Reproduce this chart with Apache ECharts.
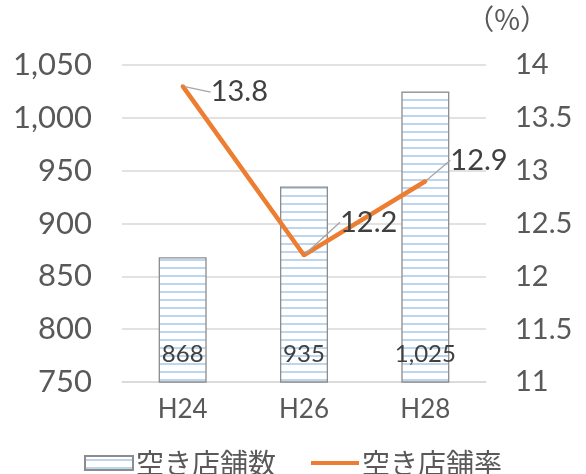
<!DOCTYPE html>
<html><head><meta charset="utf-8">
<script src="https://cdn.jsdelivr.net/npm/echarts@6/dist/echarts.min.js"></script>
<style>html,body{margin:0;padding:0;background:#fff}#c{width:586px;height:474px}</style>
</head><body><div id="c"></div>
<script>
const categories = ['H24', 'H26', 'H28'];
const vacantCount = [868, 935, 1025];
const vacantRate = [13.8, 12.2, 12.9];
const leftTicks = {min: 750, max: 1050, interval: 50};
const rightTicks = {min: 11, max: 14, interval: 0.5};

const pc = document.createElement('canvas');
pc.width = 8; pc.height = 8;
const g = pc.getContext('2d');
g.fillStyle = '#ffffff'; g.fillRect(0, 0, 8, 8);
g.fillStyle = '#BDD5EE'; g.fillRect(0, 3, 8, 2);

const FONT = "Lato, 'Noto Sans CJK JP', sans-serif";
const chart = echarts.init(document.getElementById('c'), null, {renderer: 'canvas'});
const labelOffsets = [[22, 6], [30, -33], [19, -21]];
chart.setOption({
  animation: false,
  textStyle: {fontFamily: FONT},
  grid: {left: 122, right: 100, top: 65, bottom: 92},
  graphic: [{type: 'text', right: 38, top: 5, style: {text: '（%）', fontSize: 28, fill: '#595959', fontFamily: "'Noto Sans CJK JP'"}}],
  legend: {
    left: 'center', top: 444, itemWidth: 48, itemHeight: 14, itemGap: 35,
    textStyle: {fontSize: 28, color: '#595959', fontFamily: "'Noto Sans CJK JP'", padding: [0, 0, 0, -2]},
    data: [
      {name: '空き店舗数', icon: 'rect'},
      {name: '空き店舗率', icon: 'path://M0,0 L50,0 L50,4 L0,4 Z', itemStyle: {color: '#ED7D31', opacity: 1, borderWidth: 0}}
    ]
  },
  xAxis: {
    type: 'category', data: categories,
    axisLine: {lineStyle: {color: '#D9D9D9', width: 1.5}},
    axisTick: {show: false},
    axisLabel: {fontSize: 26, color: '#595959', margin: 15, fontFamily: FONT}
  },
  yAxis: [
    {type: 'value', min: leftTicks.min, max: leftTicks.max, interval: leftTicks.interval,
     axisLabel: {fontSize: 31, color: '#595959', margin: 30, fontFamily: FONT,
       formatter: v => v.toLocaleString('en-US')},
     splitLine: {lineStyle: {color: '#D9D9D9', width: 1.5}},
     axisLine: {show: false}, axisTick: {show: false}},
    {type: 'value', min: rightTicks.min, max: rightTicks.max, interval: rightTicks.interval,
     axisLabel: {fontSize: 29, color: '#595959', margin: 29, fontFamily: FONT},
     splitLine: {show: false}, axisLine: {show: false}, axisTick: {show: false}}
  ],
  series: [
    {name: '空き店舗数', type: 'bar', data: vacantCount, barWidth: 48, yAxisIndex: 0,
     itemStyle: {color: {image: pc, repeat: 'repeat'}, borderColor: '#8C8C8C', borderWidth: 1.3},
     label: {show: true, position: 'insideBottom', distance: 16, fontSize: 24, color: '#404040',
       fontFamily: FONT, formatter: p => p.value.toLocaleString('en-US')}},
    {name: '空き店舗率', type: 'line', data: vacantRate, yAxisIndex: 1,
     lineStyle: {color: '#ED7D31', width: 4.5}, itemStyle: {color: '#ED7D31'},
     symbol: 'circle', symbolSize: 4, showSymbol: true,
     label: {show: true, position: 'right', distance: 4, fontSize: 29, color: '#404040', fontFamily: FONT},
     labelLine: {show: true, lineStyle: {color: '#A6A6A6', width: 1.3}},
     labelLayout: p => ({dx: labelOffsets[p.dataIndex][0], dy: labelOffsets[p.dataIndex][1]})}
  ]
});
</script></body></html>
